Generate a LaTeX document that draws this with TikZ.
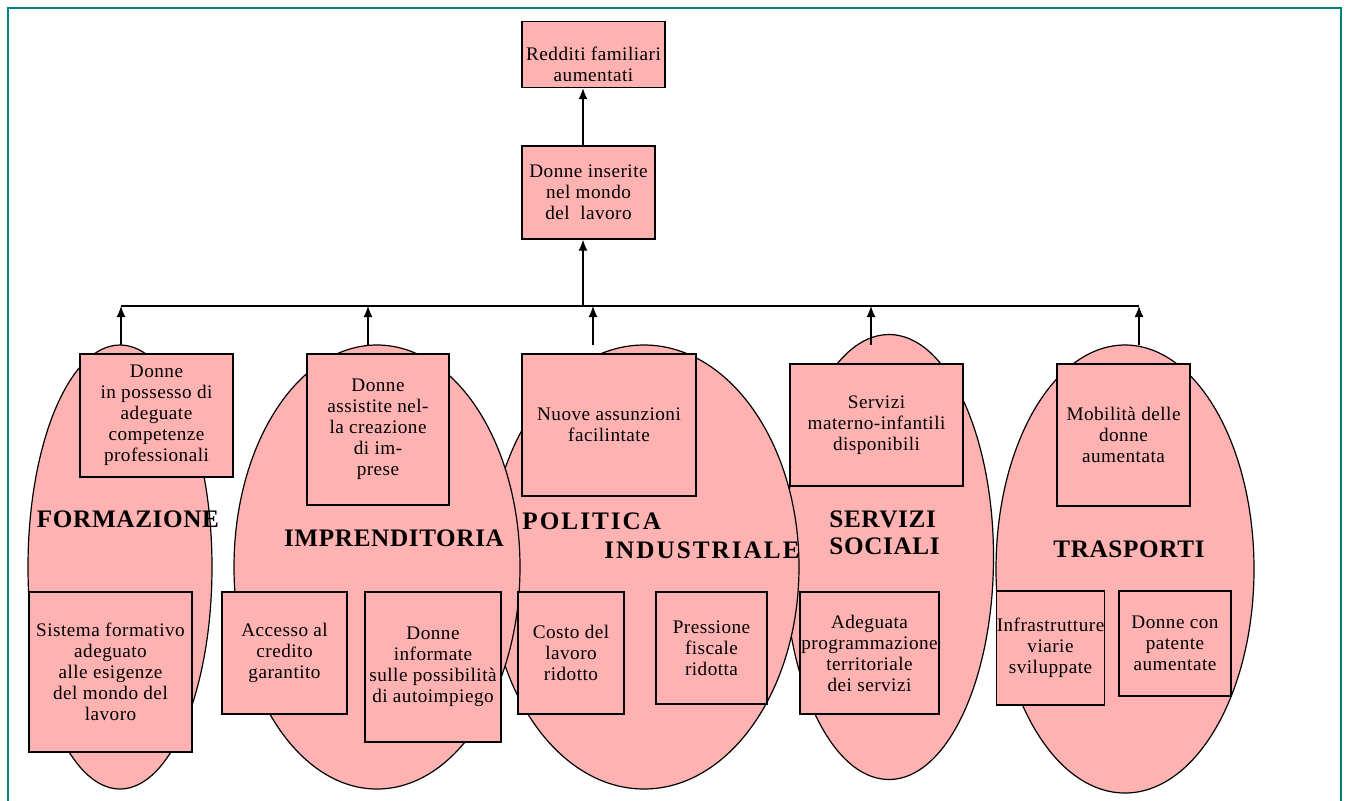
\documentclass[tikz,border=0pt]{standalone}
\usepackage{fontspec}
\setmainfont{Liberation Serif}[LetterSpace=2.5]
\usepackage{tikz}
\usetikzlibrary{arrows.meta}
\usetikzlibrary{shapes.geometric}
\definecolor{rosa}{RGB}{255,178,178}
\definecolor{petrolio}{RGB}{0,128,128}
\tikzstyle{obiettivo} = [rectangle, draw=black, line width=0.7pt, fill=rosa, inner sep=0pt, align=center, font=\fontsize{9.6}{10.5}\selectfont]
\tikzstyle{area} = [ellipse, draw=black, line width=0.6pt, fill=rosa, inner sep=0pt]
\tikzstyle{titolo} = [inner sep=0pt, font=\bfseries\fontsize{12.6}{13.5}\selectfont]
\tikzstyle{freccia} = [-{Latex[length=5.5pt, width=4.5pt]}, draw=black, line width=0.6pt]

\begin{document}
\begin{tikzpicture}[x=0.5pt, y=-0.5pt]
\useasboundingbox (0, 0) rectangle (1347, 800);
\draw [petrolio, line width=1pt] (8, 830) -- (8, 8) -- (1341, 8) -- (1341, 830);

% aree di intervento
\node [area, minimum width=129pt, minimum height=224pt] (tras) at (1125, 569) {};
\node [area, minimum width=104.5pt, minimum height=222.5pt] (serv) at (889, 557) {};
\node [area, minimum width=155pt, minimum height=222pt] (pol) at (644, 567) {};
\node [area, minimum width=143pt, minimum height=222pt] (impr) at (377, 567) {};
\node [area, minimum width=92pt, minimum height=222pt] (form) at (120, 567) {};

% obiettivi
\node [obiettivo, minimum width=71.5pt, minimum height=33pt] (redditi) at (593.5, 54.5) {\rule{0pt}{17pt}Redditi familiari\\aumentati};
\node [obiettivo, minimum width=66.5pt, minimum height=46.5pt] (inserite) at (588.5, 192.5) {Donne inserite\\nel mondo\\del~ lavoro};

\node [obiettivo, minimum width=76.5pt, minimum height=61.5pt] (competenze) at (156.5, 415.5) {Donne\\in possesso di\\adeguate\\competenze\\professionali};
\node [obiettivo, minimum width=81.5pt, minimum height=80pt] (sistema) at (110.5, 672) {Sistema formativo\\adeguato\\alle esigenze\\del mondo del\\lavoro};

\node [obiettivo, minimum width=71pt, minimum height=75.5pt] (assistite) at (378, 429.5) {Donne\\assistite nel-\\la creazione\\di im-\\prese};
\node [obiettivo, minimum width=62.5pt, minimum height=61pt] (credito) at (284.5, 653) {Accesso al\\credito\\garantito};
\node [obiettivo, minimum width=68pt, minimum height=75pt] (informate) at (433, 667) {Donne\\informate\\sulle possibilità\\di autoimpiego};

\node [obiettivo, minimum width=87pt, minimum height=71pt] (assunzioni) at (609, 425) {Nuove assunzioni\\facilintate};
\node [obiettivo, minimum width=53pt, minimum height=61pt] (costo) at (571, 653) {Costo del\\lavoro\\ridotto};
\node [obiettivo, minimum width=55.5pt, minimum height=56pt] (pressione) at (711.5, 648) {Pressione\\fiscale\\ridotta};

\node [obiettivo, minimum width=86.5pt, minimum height=61pt] (materno) at (876.5, 425) {Servizi\\materno-infantili\\disponibili};
\node [obiettivo, minimum width=69.5pt, minimum height=61pt] (programma) at (869.5, 653) {Adeguata\\programmazione\\territoriale\\dei servizi};

\node [obiettivo, minimum width=66.5pt, minimum height=71pt] (mobilita) at (1123.5, 435) {Mobilità delle\\donne\\aumentata};
\node [obiettivo, minimum width=53.5pt, minimum height=57pt] (viarie) at (1050.5, 648) {Infrastrutture\\viarie\\sviluppate};
\node [obiettivo, minimum width=56pt, minimum height=52.5pt] (patente) at (1175, 643.5) {Donne con\\patente\\aumentate};

% titoli delle aree
\node [titolo] (tform) at (128, 519) {FORMAZIONE};
\node [titolo] (timpr) at (394, 538) {IMPRENDITORIA};
\node [titolo, anchor=west, align=left, font=\bfseries\fontsize{12.6}{14.5}\selectfont\addfontfeatures{LetterSpace=8}] (tpol) at (522, 535.5) {POLITICA\\\hspace*{41pt}INDUSTRIALE};
\node [titolo, anchor=west, align=left] (tserv) at (829, 532.5) {SERVIZI\\SOCIALI};
\node [titolo] (ttras) at (1129, 549) {TRASPORTI};

% collegamenti
\coordinate (hub) at (583, 306);
\coordinate (a1) at (121, 345);
\coordinate (a2) at (368, 345);
\coordinate (a3) at (593, 345);
\coordinate (a4) at (871, 345);
\coordinate (a5) at (1139, 345);
\draw [line width=0.6pt] (a1 |- hub) -- (a5 |- hub);
\foreach \i in {1,...,5}
  \draw [freccia] (a\i) -- (a\i |- hub);
\draw [freccia] (hub) -- (hub |- inserite.south);
\draw [freccia] (hub |- inserite.north) -- (hub |- redditi.south);
\end{tikzpicture}
\end{document}
